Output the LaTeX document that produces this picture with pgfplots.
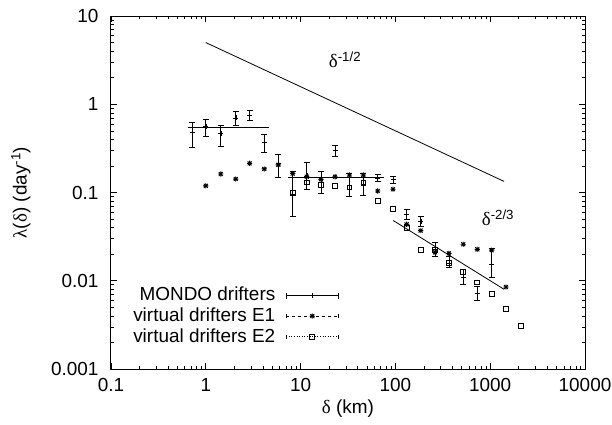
\documentclass[border=0pt]{standalone}
\usepackage{fontspec}
\setmainfont{Liberation Sans}
\newfontfamily\greek{Liberation Serif}
\usepackage{pgfplots}
\pgfplotsset{compat=1.18}

% gnuplot style star: + and x on top of each other
\pgfdeclareplotmark{gpstar}{%
  \pgfpathmoveto{\pgfqpoint{-\pgfplotmarksize}{0pt}}%
  \pgfpathlineto{\pgfqpoint{\pgfplotmarksize}{0pt}}%
  \pgfpathmoveto{\pgfqpoint{0pt}{-\pgfplotmarksize}}%
  \pgfpathlineto{\pgfqpoint{0pt}{\pgfplotmarksize}}%
  \pgfpathmoveto{\pgfqpoint{-0.75\pgfplotmarksize}{-0.75\pgfplotmarksize}}%
  \pgfpathlineto{\pgfqpoint{0.75\pgfplotmarksize}{0.75\pgfplotmarksize}}%
  \pgfpathmoveto{\pgfqpoint{-0.75\pgfplotmarksize}{0.75\pgfplotmarksize}}%
  \pgfpathlineto{\pgfqpoint{0.75\pgfplotmarksize}{-0.75\pgfplotmarksize}}%
  \pgfusepathqstroke}

\begin{document}
\fontsize{19}{22}\selectfont
\begin{tikzpicture}
\begin{axis}[
    scale only axis, width=474bp, height=353bp,
    xmode=log, ymode=log,
    xmin=0.1, xmax=10000, ymin=0.001, ymax=10,
    xtick={0.1,1,10,100,1000,10000},
    xticklabels={0.1,1,10,100,1000,10000},
    ytick={0.001,0.01,0.1,1,10},
    yticklabels={0.001,0.01,0.1,1,10},
    tick align=inside, major tick length=6bp, minor tick length=3bp,
    axis line style={line width=1bp},
    tick style={black, line width=0.6bp},
    yticklabel style={xshift=-6bp},
    xticklabel style={yshift=-3bp},
    xlabel={{\greek δ} (km)},
    ylabel={{\greek λ}({\greek δ}) (day\textsuperscript{-1})},
    xlabel style={at={(axis description cs:0.5,-0.113)}, anchor=center},
    ylabel style={at={(axis description cs:-0.19,0.5)}, anchor=center},
    legend plot pos=right,
    legend cell align=right,
    legend style={draw=none, fill=none, at={(0.487,0.150)}, anchor=east,
                  row sep=2bp, nodes={inner sep=1bp}},
]
% MONDO drifters
\addplot[black, only marks, mark=+, mark size=2.5bp,
    error bars/.cd, y dir=both, y explicit,
    error bar style={line width=0.7bp},
    error mark options={rotate=90, mark size=3bp, line width=0.7bp},
    /pgfplots/legend image code/.code={
      \path[draw=none] (0bp,0bp) -- (62bp,0bp);
      \draw[black, solid, line width=0.7bp] (10bp,0bp) -- (62bp,0bp);
      \draw[black, solid, line width=0.7bp] (10bp,-3bp) -- (10bp,3bp) (62bp,-3bp) -- (62bp,3bp);
      \draw[black, solid, mark=+, mark size=2.5bp] plot coordinates {(36bp,0bp)};}]
coordinates {
(0.72,0.477) += (0,0.143) -= (0,0.154)
(1.0,0.557) += (0,0.118) -= (0,0.127)
(1.44,0.469) += (0,0.102) -= (0,0.133)
(2.07,0.70) += (0,0.123) -= (0,0.118)
(2.9,0.75) += (0,0.095) -= (0,0.099)
(4.14,0.37) += (0,0.087) -= (0,0.085)
(5.82,0.214) += (0,0.057) -= (0,0.067)
(8.25,0.096) += (0,0.076) -= (0,0.043)
(11.6,0.155) += (0,0.065) -= (0,0.045)
(16.4,0.13) += (0,0.042) -= (0,0.032)
(23.1,0.30) += (0,0.045) -= (0,0.04)
(32.7,0.12) += (0,0.045) -= (0,0.03)
(45.9,0.125) += (0,0.04) -= (0,0.031)
(65,0.146) += (0,0.014) -= (0,0.013)
(94.4,0.14) += (0,0.011) -= (0,0.013)
(131.5,0.057) += (0,0.008) -= (0,0.0073)
(185,0.047) += (0,0.006) -= (0,0.0053)
(262,0.0225) += (0,0.0045) -= (0,0.0037)
(367,0.016) += (0,0.0028) -= (0,0.0018)
(520,0.011) += (0,0.0026) -= (0,0.0019)
(731,0.0073) += (0,0.0014) -= (0,0.0013)
(1037,0.0156) += (0,0.0075) -= (0,0.0046)
};
\addlegendentry{MONDO drifters}
% virtual drifters E1
\addplot[black, only marks, mark=gpstar, mark size=2.6bp,
    mark options={line width=0.9bp},
    /pgfplots/legend image code/.code={
      \path[draw=none] (0bp,0bp) -- (62bp,0bp);
      \draw[black, dashed, line width=0.6bp] (10bp,0bp) -- (62bp,0bp);
      \draw[black, solid, line width=0.6bp] (10bp,-2bp) -- (10bp,2bp) (62bp,-2bp) -- (62bp,2bp);
      \draw[black, solid, mark=gpstar, mark size=2.6bp, mark options={line width=0.9bp}] plot coordinates {(36bp,0bp)};}]
coordinates {
(1.0,0.119)(1.44,0.162)(2.07,0.142)(2.9,0.214)(4.14,0.185)(5.82,0.206)
(8.25,0.164)(11.6,0.151)(16.4,0.141)(23.1,0.151)(32.7,0.158)(45.9,0.158)
(65,0.104)(94.4,0.109)(131.5,0.0436)(185,0.037)(262,0.021)(367,0.0204)
(520,0.0259)(731,0.0227)(1037,0.0222)(1468,0.0085)
};
\addlegendentry{virtual drifters E1}
% virtual drifters E2
\addplot[black, only marks, mark=square, mark size=2.4bp,
    mark options={line width=0.8bp},
    /pgfplots/legend image code/.code={
      \path[draw=none] (0bp,0bp) -- (62bp,0bp);
      \draw[black, dotted, line width=0.6bp] (10bp,0bp) -- (62bp,0bp);
      \draw[black, solid, line width=0.6bp] (10bp,-2bp) -- (10bp,2bp) (62bp,-2bp) -- (62bp,2bp);
      \draw[black, solid, mark=square, mark size=2.4bp, mark options={line width=0.8bp}] plot coordinates {(36bp,0bp)};}]
coordinates {
(8.25,0.098)(11.6,0.13)(16.4,0.122)(23.1,0.119)(32.7,0.114)(45.9,0.129)
(65,0.081)(94.4,0.065)(131.5,0.040)(185,0.0223)(262,0.0225)(367,0.0158)
(520,0.0125)(731,0.0096)(1037,0.0071)(1468,0.0048)(2113,0.0031)
};
\addlegendentry{virtual drifters E2}
% reference lines
\addplot[black, line width=0.8bp, forget plot] coordinates {(0.65,0.55)(4.6,0.55)};
\addplot[black, line width=0.8bp, forget plot] coordinates {(7.4,0.147)(76,0.147)};
\addplot[black, line width=0.8bp, forget plot] coordinates {(1,5)(1400,0.1336)};
\addplot[black, line width=0.8bp, forget plot] coordinates {(95,0.0481)(1400,0.0080)};
\node at (axis cs:29.4,3.17) {{\greek δ}\textsuperscript{-1/2}};
\node at (axis cs:1208,0.0514) {{\greek δ}\textsuperscript{-2/3}};
\end{axis}
\pgfresetboundingbox
\path (-111bp,-56bp) rectangle (501bp,369bp);
\end{tikzpicture}
\end{document}
